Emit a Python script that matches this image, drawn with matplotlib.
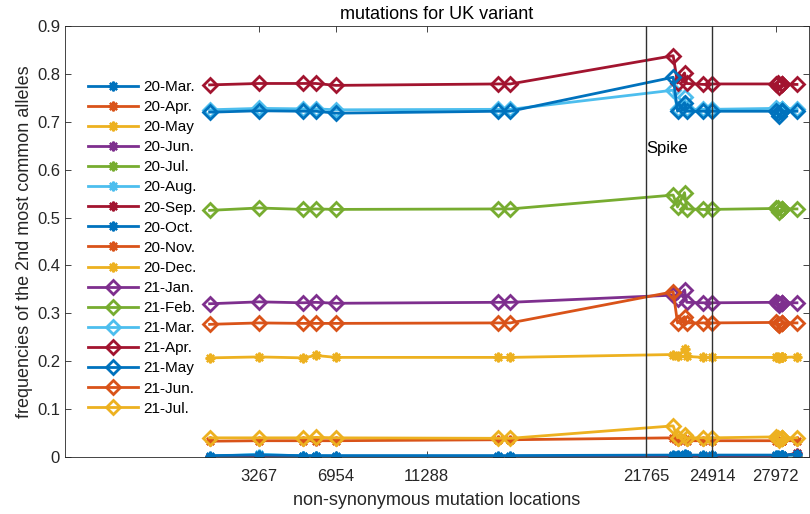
import matplotlib
matplotlib.use('Agg')
import matplotlib.pyplot as plt

plt.rcParams['font.family'] = ['Liberation Sans', 'DejaVu Sans']

# mutation locations (nucleotide positions) that carry data points
locations = [913, 3267, 5388, 5986, 6954, 14676, 15279, 23063, 23271, 23604,
             23709, 24506, 24914, 27972, 28048, 28111, 28280, 28281, 28282, 28977]

months = ['20-Mar.', '20-Apr.', '20-May', '20-Jun.', '20-Jul.', '20-Aug.',
          '20-Sep.', '20-Oct.', '20-Nov.', '20-Dec.', '21-Jan.', '21-Feb.',
          '21-Mar.', '21-Apr.', '21-May', '21-Jun.', '21-Jul.']

freq_20_mar = [0.001, 0.001, 0.001, 0.001, 0.001, 0.001, 0.001, 0.001, 0.001, 0.001,
               0.001, 0.001, 0.001, 0.001, 0.001, 0.001, 0.001, 0.001, 0.001, 0.001]
freq_20_apr = [0.001, 0.002, 0.001, 0.001, 0.001, 0.001, 0.001, 0.001, 0.001, 0.001,
               0.001, 0.001, 0.001, 0.001, 0.001, 0.001, 0.001, 0.001, 0.001, 0.002]
freq_20_may = [0.001, 0.002, 0.001, 0.001, 0.001, 0.001, 0.001, 0.001, 0.001, 0.001,
               0.001, 0.001, 0.001, 0.001, 0.001, 0.001, 0.001, 0.001, 0.001, 0.002]
freq_20_jun = [0.001, 0.002, 0.001, 0.001, 0.001, 0.001, 0.001, 0.001, 0.001, 0.001,
               0.001, 0.001, 0.001, 0.001, 0.001, 0.001, 0.001, 0.001, 0.001, 0.002]
freq_20_jul = [0.001, 0.003, 0.001, 0.001, 0.001, 0.001, 0.001, 0.002, 0.001, 0.002,
               0.001, 0.001, 0.001, 0.001, 0.001, 0.001, 0.001, 0.001, 0.001, 0.003]
freq_20_aug = [0.001, 0.006, 0.002, 0.002, 0.001, 0.001, 0.001, 0.002, 0.002, 0.003,
               0.002, 0.002, 0.002, 0.002, 0.002, 0.001, 0.002, 0.002, 0.002, 0.004]
freq_20_sep = [0.000, 0.002, 0.001, 0.001, 0.001, 0.001, 0.001, 0.002, 0.002, 0.003,
               0.002, 0.002, 0.002, 0.002, 0.002, 0.001, 0.002, 0.002, 0.002, 0.008]
freq_20_oct = [0.003, 0.004, 0.003, 0.003, 0.003, 0.003, 0.003, 0.004, 0.004, 0.006,
               0.004, 0.004, 0.004, 0.004, 0.004, 0.003, 0.004, 0.004, 0.004, 0.006]
freq_20_nov = [0.033, 0.034, 0.034, 0.034, 0.034, 0.036, 0.036, 0.040, 0.034, 0.037,
               0.034, 0.034, 0.034, 0.034, 0.034, 0.032, 0.034, 0.034, 0.034, 0.034]
freq_20_dec = [0.207, 0.209, 0.207, 0.212, 0.208, 0.208, 0.208, 0.214, 0.210, 0.225,
               0.210, 0.208, 0.208, 0.208, 0.209, 0.206, 0.208, 0.208, 0.208, 0.209]
freq_21_jan = [0.320, 0.324, 0.322, 0.323, 0.321, 0.323, 0.323, 0.338, 0.330, 0.349,
               0.323, 0.322, 0.322, 0.323, 0.322, 0.318, 0.322, 0.322, 0.322, 0.322]
freq_21_feb = [0.515, 0.520, 0.517, 0.518, 0.517, 0.518, 0.518, 0.547, 0.522, 0.552,
               0.518, 0.517, 0.517, 0.519, 0.520, 0.512, 0.518, 0.518, 0.518, 0.518]
freq_21_mar = [0.725, 0.728, 0.727, 0.727, 0.725, 0.726, 0.726, 0.766, 0.727, 0.752,
               0.726, 0.726, 0.726, 0.728, 0.724, 0.720, 0.727, 0.727, 0.727, 0.727]
freq_21_apr = [0.777, 0.780, 0.780, 0.780, 0.776, 0.779, 0.779, 0.838, 0.781, 0.802,
               0.780, 0.778, 0.779, 0.779, 0.780, 0.772, 0.778, 0.778, 0.778, 0.778]
freq_21_may = [0.720, 0.723, 0.722, 0.722, 0.718, 0.722, 0.722, 0.793, 0.722, 0.740,
               0.722, 0.722, 0.722, 0.722, 0.718, 0.712, 0.722, 0.722, 0.722, 0.722]
freq_21_jun = [0.277, 0.280, 0.279, 0.279, 0.279, 0.280, 0.280, 0.345, 0.280, 0.293,
               0.280, 0.280, 0.280, 0.281, 0.278, 0.276, 0.280, 0.280, 0.280, 0.280]
freq_21_jul = [0.040, 0.040, 0.040, 0.041, 0.040, 0.039, 0.039, 0.065, 0.040, 0.045,
               0.040, 0.040, 0.040, 0.042, 0.040, 0.036, 0.040, 0.040, 0.040, 0.040]

all_freqs = [freq_20_mar, freq_20_apr, freq_20_may, freq_20_jun, freq_20_jul,
             freq_20_aug, freq_20_sep, freq_20_oct, freq_20_nov, freq_20_dec,
             freq_21_jan, freq_21_feb, freq_21_mar, freq_21_apr, freq_21_may,
             freq_21_jun, freq_21_jul]

xtick_positions = [3267, 6954, 11288, 21765, 24914, 27972]
ytick_positions = [0, 0.1, 0.2, 0.3, 0.4, 0.5, 0.6, 0.7, 0.8, 0.9]
ytick_labels = ['0', '0.1', '0.2', '0.3', '0.4', '0.5', '0.6', '0.7', '0.8', '0.9']
spike_bounds = [21765, 24914]

# matlab default color order
COLORS = ['#0072BD', '#D95319', '#EDB120', '#7E2F8E', '#77AC30', '#4DBEEE', '#A2142F']
AX_COLOR = '#262626'

fig = plt.figure(figsize=(8.1, 5.14), dpi=100)
ax = fig.add_axes([0.0802, 0.1109, 0.9185, 0.8385])

for i, (month, freqs) in enumerate(zip(months, all_freqs)):
    color = COLORS[i % len(COLORS)]
    if month.startswith('20'):
        ax.plot(locations, freqs, color=color, lw=2, marker=(8, 2, 0),
                markersize=7, markeredgewidth=1.6, label=month)
    else:
        ax.plot(locations, freqs, color=color, lw=2, marker='D',
                markersize=7.5, markeredgewidth=2, markerfacecolor='none',
                label=month)

for b in spike_bounds:
    ax.axvline(b, color='#303030', lw=1, zorder=5)
ax.text(spike_bounds[0], 0.645, 'Spike', fontsize=12, va='center', ha='left')

ax.set_xlim(-6000, 29550)
ax.set_ylim(0, 0.9)
ax.set_xticks(xtick_positions)
ax.set_xticklabels([str(x) for x in xtick_positions])
ax.set_yticks(ytick_positions)
ax.set_yticklabels(ytick_labels)
ax.tick_params(direction='in', top=True, right=True, labelsize=12,
               colors=AX_COLOR, length=4, width=0.6)
ax.tick_params(axis='x', pad=9)
for s in ax.spines.values():
    s.set_color(AX_COLOR)
    s.set_linewidth(0.6)

ax.set_title('mutations for UK variant', fontsize=13, color='k', pad=5)
ax.set_xlabel('non-synonymous mutation locations', fontsize=13, color=AX_COLOR,
              labelpad=5.5)
ax.set_ylabel('frequencies of the 2nd most common alleles', fontsize=13,
              color=AX_COLOR, labelpad=3)

ax.legend(loc='upper left', bbox_to_anchor=(0.031, 0.875), frameon=False,
          fontsize=11, handlelength=3.3, handletextpad=0.3, labelspacing=0.4,
          borderpad=0, borderaxespad=0)

fig.savefig('out.png', dpi=100)
